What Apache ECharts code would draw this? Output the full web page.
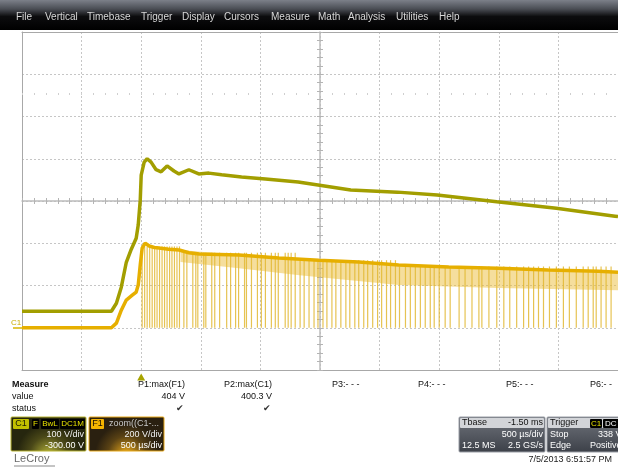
<!DOCTYPE html>
<html>
<head>
<meta charset="utf-8">
<script src="https://cdn.jsdelivr.net/npm/echarts@6/dist/echarts.min.js"></script>
<style>
html, body { margin: 0; padding: 0; background: #fff; }
#main { width: 618px; height: 467px; }
</style>
</head>
<body>
<div id="main"></div>
<script>
// time in µs (trigger at 0), 500 µs/div ; C1 in V (100 V/div), F1 in V (200 V/div)
const menuItems = ['File', 'Vertical', 'Timebase', 'Trigger', 'Display', 'Cursors', 'Measure', 'Math', 'Analysis', 'Utilities', 'Help'];

const c1Trace = [
    [-1000, 39], [-250, 39], [-208, 58], [-167, 96], [-125, 155], [-83, 186], [-42, 212],
    [-25, 243], [-8, 302], [0, 361], [25, 392], [50, 400], [83, 392], [125, 374], [167, 369],
    [217, 383], [275, 371], [317, 364], [400, 374], [483, 364], [567, 366], [675, 362],
    [842, 357], [1042, 352], [1317, 345], [1758, 326], [2150, 321], [2483, 314], [2983, 298],
    [3483, 283], [3975, 264], [4000, 263]
];

const f1Trace = [
    [-1000, 0], [-250, 0], [-208, 22], [-167, 83], [-125, 131], [-75, 154], [-42, 169],
    [-25, 202], [-8, 297], [8, 377], [33, 401], [67, 387], [110, 380], [150, 377], [230, 372],
    [318, 368], [400, 355], [486, 349], [820, 344], [1155, 330], [1490, 320], [1825, 311],
    [2160, 297], [2580, 287], [2995, 282], [3415, 273], [3835, 268], [4000, 263]
];

// ripple band under the F1 trace
const rippleTimes = [330, 820, 1330, 2160, 2995, 4000];
const rippleTop = [368, 344, 326, 297, 282, 263];
const rippleBottom = [311, 282, 249, 202, 188, 178];

// switching spikes of F1 (times in µs), grouped by the level they reach
const spikesA = [8, 29, 50, 71, 92, 113, 133, 154, 175, 196, 217, 238, 258, 279, 300, 321];
const spikesB = [358, 383, 433, 458, 475, 525, 542, 592, 617, 658, 717, 750, 792, 817, 867, 883,
    925, 975, 1008, 1042, 1092, 1125, 1150, 1208, 1233, 1258, 1292];
const spikesC = [1333, 1367, 1408, 1450, 1483, 1525, 1558, 1600, 1633, 1675, 1717, 1750, 1792,
    1825, 1867, 1900, 1942, 1983, 2017, 2058, 2092, 2133];
const spikesD = [2167, 2217, 2258, 2300, 2342, 2383, 2425, 2458, 2500, 2550, 2592, 2667, 2717,
    2775, 2833, 2858, 2917, 2983, 3042, 3092, 3150, 3208, 3250, 3292, 3333, 3375, 3425, 3483,
    3542, 3592, 3650, 3708, 3750, 3792, 3817, 3858, 3900, 3942];
const spikeLevels = [385, 355, 320, 290];

const measureNames = ['P1:max(F1)', 'P2:max(C1)', 'P3:- - -', 'P4:- - -', 'P5:- - -', 'P6:- -'];
const measureValues = ['404 V', '400.3 V'];

const spikeData = [];
[spikesA, spikesB, spikesC, spikesD].forEach((g, i) => {
    g.forEach(t => spikeData.push([t, spikeLevels[i]]));
});

const FONT = '"Liberation Sans", Arial, sans-serif';
const chart = echarts.init(document.getElementById('main'), null, { renderer: 'canvas' });

function txt(x, y, s, opt) {
    opt = opt || {};
    return {
        type: 'text', x: x, y: y, z: 100,
        style: {
            text: s, fill: opt.fill || '#111', font: (opt.weight || 'normal') + ' ' + (opt.size || 9) + 'px ' + FONT,
            textAlign: opt.align || 'left', textVerticalAlign: 'middle'
        }
    };
}
function box(x, y, w, h, fill, stroke) {
    return {
        type: 'rect', z: 90, shape: { x: x, y: y, width: w, height: h, r: 1 },
        style: { fill: fill, stroke: stroke || null, lineWidth: 1 }
    };
}

const graphics = [];
// menu bar
graphics.push({
    type: 'rect', z: 80, shape: { x: 0, y: 0, width: 618, height: 30 },
    style: {
        fill: new echarts.graphic.LinearGradient(0, 0, 0, 1, [
            { offset: 0, color: '#7c8089' }, { offset: 0.3, color: '#4a4d54' },
            { offset: 0.55, color: '#0c0c0e' }, { offset: 1, color: '#000' }
        ])
    }
});
const menuX = [16, 45, 87, 141, 182, 224, 271, 318, 348, 396, 439];
menuItems.forEach((m, i) => graphics.push(txt(menuX[i], 17, m, { fill: '#d8d8d8', size: 10 })));

// C1 ground marker
graphics.push(txt(11, 323, 'C1', { fill: '#c9ad00', size: 8 }));
graphics.push({ type: 'line', z: 90, shape: { x1: 13, y1: 328, x2: 22, y2: 328 }, style: { stroke: '#d8b400', lineWidth: 1.5 } });

// measure table
graphics.push(txt(12, 385, 'Measure', { weight: 'bold' }));
graphics.push(txt(12, 397, 'value'));
graphics.push(txt(12, 409, 'status'));
const measX = [185, 272, 332, 418, 506, 590];
measureNames.forEach((m, i) => {
    graphics.push(txt(measX[i], 385, m, { align: i < 2 ? 'right' : 'left' }));
});
measureValues.forEach((v, i) => {
    graphics.push(txt(measX[i], 397, v, { align: 'right' }));
    graphics.push(txt(measX[i] - 5, 409, '\u2714', { align: 'center', fill: '#333', size: 9 }));
});

// C1 badge
graphics.push(box(11, 417, 75, 34, new echarts.graphic.RadialGradient(0.5, 1.1, 0.9, [
    { offset: 0, color: '#b6b43a' }, { offset: 0.6, color: '#4a4818' }, { offset: 1, color: '#26260e' }
]), '#b8b430'));
graphics.push(box(13, 419, 16, 10, '#c2c000'));
graphics.push(txt(21, 424, 'C1', { align: 'center', fill: '#1a1a00' }));
graphics.push(box(32, 419, 7, 10, '#000'));
graphics.push(txt(35.5, 424, 'F', { align: 'center', fill: '#e6e000', size: 8 }));
graphics.push(box(41, 419, 18, 10, '#000'));
graphics.push(txt(50, 424, 'BwL', { align: 'center', fill: '#e6e000', size: 8 }));
graphics.push(box(60, 419, 25, 10, '#000'));
graphics.push(txt(72.5, 424, 'DC1M', { align: 'center', fill: '#e6e000', size: 8 }));
graphics.push(txt(84, 435, '100 V/div', { align: 'right', fill: '#f0f0f0' }));
graphics.push(txt(84, 446, '-300.00 V', { align: 'right', fill: '#ffffff' }));

// F1 badge
graphics.push(box(89, 417, 75, 34, new echarts.graphic.RadialGradient(0.5, 1.1, 0.9, [
    { offset: 0, color: '#f2b01c' }, { offset: 0.6, color: '#5a4214' }, { offset: 1, color: '#2a2010' }
]), '#e8a818'));
graphics.push(box(91, 419, 13, 10, '#f4b400'));
graphics.push(txt(97.5, 424, 'F1', { align: 'center', fill: '#1a1000' }));
graphics.push(txt(109, 424, 'zoom((C1-...', { fill: '#c8c8c8' }));
graphics.push(txt(162, 435, '200 V/div', { align: 'right', fill: '#f0f0f0' }));
graphics.push(txt(162, 446, '500 \u00b5s/div', { align: 'right', fill: '#ffffff' }));

// timebase box
const grayBox = new echarts.graphic.LinearGradient(0, 0, 0, 1, [
    { offset: 0, color: '#70747c' }, { offset: 1, color: '#3c4048' }
]);
graphics.push(box(459, 417, 86, 35, grayBox, '#9a9ea6'));
graphics.push(box(460, 418, 84, 10, '#d2d4d8'));
graphics.push(txt(462, 423, 'Tbase', { fill: '#111' }));
graphics.push(txt(543, 423, '-1.50 ms', { align: 'right', fill: '#111' }));
graphics.push(txt(543, 435, '500 \u00b5s/div', { align: 'right', fill: '#fff' }));
graphics.push(txt(462, 446, '12.5 MS', { fill: '#fff' }));
graphics.push(txt(543, 446, '2.5 GS/s', { align: 'right', fill: '#fff' }));

// trigger box
graphics.push(box(547, 417, 80, 35, grayBox, '#9a9ea6'));
graphics.push(box(548, 418, 78, 10, '#d2d4d8'));
graphics.push(txt(550, 423, 'Trigger', { fill: '#111' }));
graphics.push(box(590, 419, 12, 9, '#000'));
graphics.push(txt(596, 423.5, 'C1', { align: 'center', fill: '#e6e000', size: 8 }));
graphics.push(box(603, 419, 16, 9, '#000'));
graphics.push(txt(605, 423.5, 'DC', { fill: '#fff', size: 8 }));
graphics.push(txt(550, 435, 'Stop', { fill: '#fff' }));
graphics.push(txt(598, 435, '338 V', { fill: '#fff' }));
graphics.push(txt(550, 446, 'Edge', { fill: '#fff' }));
graphics.push(txt(590, 446, 'Positive', { fill: '#fff' }));

// footer
graphics.push(txt(14, 459, 'LeCroy', { fill: '#6a6a6a', size: 11 }));
graphics.push({ type: 'line', z: 90, shape: { x1: 14, y1: 466, x2: 55, y2: 466 }, style: { stroke: '#8a8a8a', lineWidth: 1 } });
graphics.push(txt(612, 460, '7/5/2013 6:51:57 PM', { align: 'right', fill: '#222' }));

const GRID = { left: 22, top: 32, width: 598, height: 338 };
const dotted = { color: '#c6c6c6', type: [2, 2], width: 1 };
const border = { show: true, onZero: false, lineStyle: { color: '#a8a8a8', width: 1 } };
const hiddenBits = { axisLabel: { show: false }, splitLine: { show: false } };

function divAxis(extra) {
    return Object.assign({ type: 'value', min: 0, interval: 1 }, hiddenBits, extra);
}

const option = {
    animation: false,
    backgroundColor: '#fff',
    grid: Object.assign({ show: false }, GRID),
    xAxis: [
        { // time
            type: 'value', min: -1000, max: 4000, interval: 500, position: 'bottom',
            axisLine: border, axisTick: { show: false }, axisLabel: { show: false },
            splitLine: { show: true, lineStyle: dotted }
        },
        divAxis({ // horizontal centre line, ticks up
            max: 50, position: 'bottom', offset: -169,
            axisLine: { show: true, onZero: false, lineStyle: { color: '#bcbcbc', width: 1.5 } },
            axisTick: { show: true, inside: true, length: 3, lineStyle: { color: '#b4b4b4' } }
        }),
        divAxis({ // horizontal centre line, ticks down
            max: 50, position: 'bottom', offset: -169,
            axisLine: { show: false, onZero: false },
            axisTick: { show: true, inside: false, length: 3, lineStyle: { color: '#b4b4b4' } }
        }),
        divAxis({ // dotted row
            max: 50, position: 'top', offset: -63,
            axisLine: { show: false, onZero: false },
            axisTick: { show: true, inside: false, length: 2, lineStyle: { color: '#cfcfcf' } }
        }),
        divAxis({ // top border
            max: 50, position: 'top',
            axisLine: border, axisTick: { show: false }
        })
    ],
    yAxis: [
        { // C1
            type: 'value', min: -100, max: 700, interval: 100, position: 'left',
            axisLine: border, axisTick: { show: false }, axisLabel: { show: false },
            splitLine: { show: true, lineStyle: dotted }
        },
        Object.assign({ // F1
            type: 'value', min: -200, max: 1400, interval: 200,
            axisLine: { show: false, onZero: false }, axisTick: { show: false }
        }, hiddenBits),
        divAxis({ // vertical centre line, ticks right
            max: 40, position: 'left', offset: -298,
            axisLine: { show: true, onZero: false, lineStyle: { color: '#bcbcbc', width: 1.5 } },
            axisTick: { show: true, inside: true, length: 3, lineStyle: { color: '#b4b4b4' } }
        }),
        divAxis({ // vertical centre line, ticks left
            max: 40, position: 'left', offset: -298,
            axisLine: { show: false, onZero: false },
            axisTick: { show: true, inside: false, length: 3, lineStyle: { color: '#b4b4b4' } }
        })
    ],
    series: [
        {
            name: 'F1 spikes', type: 'bar', xAxisIndex: 0, yAxisIndex: 1,
            data: spikeData, barWidth: 1.2, z: 2,
            itemStyle: { color: 'rgba(226,184,52,0.85)' }
        },
        {
            name: 'ripple', type: 'custom', xAxisIndex: 0, yAxisIndex: 1, z: 2,
            data: rippleTimes.map((t, i) => [t, rippleTop[i], rippleBottom[i]]),
            encode: { x: 0, y: [1, 2] },
            renderItem: function (params, api) {
                if (params.dataIndex !== 0) return;
                const pts = [];
                for (let i = 0; i < rippleTimes.length; i++) pts.push(api.coord([rippleTimes[i], rippleTop[i]]));
                for (let i = rippleTimes.length - 1; i >= 0; i--) pts.push(api.coord([rippleTimes[i], rippleBottom[i]]));
                return { type: 'polygon', shape: { points: pts }, style: { fill: 'rgba(236,190,60,0.5)' } };
            }
        },
        {
            name: 'F1', type: 'line', xAxisIndex: 0, yAxisIndex: 1,
            data: f1Trace, symbol: 'none', z: 3,
            lineStyle: { color: '#e6af00', width: 3.5 }
        },
        {
            name: 'C1', type: 'line', xAxisIndex: 0, yAxisIndex: 0,
            data: c1Trace, symbol: 'none', z: 4,
            lineStyle: { color: '#a29e00', width: 3.5 },
            markPoint: {
                silent: true,
                data: [{ coord: [0, -100], symbol: 'triangle', symbolSize: [8, 7], symbolOffset: [0, 7],
                    itemStyle: { color: '#a8a400' }, label: { show: false } }]
            }
        }
    ],
    graphic: graphics
};
chart.setOption(option);
</script>
</body>
</html>
